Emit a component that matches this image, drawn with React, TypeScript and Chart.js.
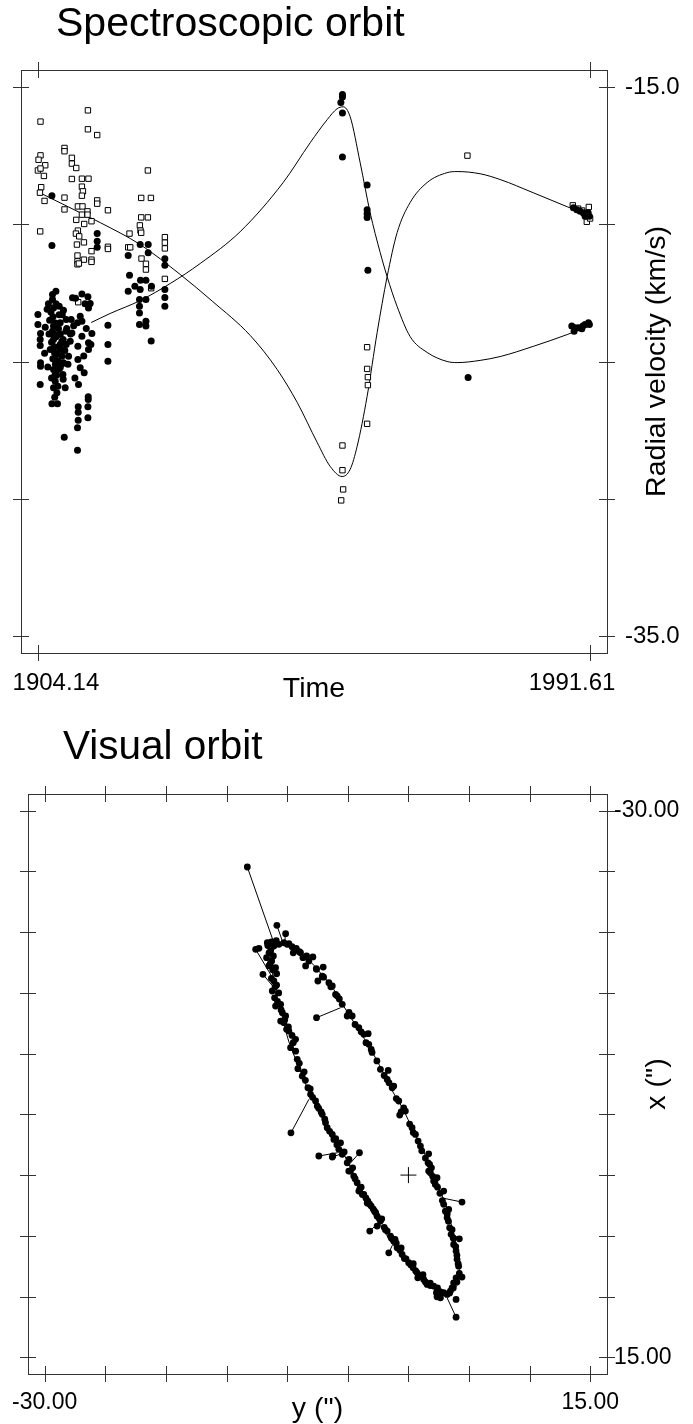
import React, { useEffect, useRef } from "react";
import { Chart, registerables } from "chart.js";

Chart.register(...registerables);

const FONT = '"Liberation Sans", Arial, sans-serif';

// ---------- Spectroscopic orbit ----------
const SPEC_X_TICKS = [1904.14, 1991.61];
const SPEC_X_LABELS = ["1904.14", "1991.61"];
const SPEC_Y_TICKS = [-15, -20, -25, -30, -35];
const SPEC_Y_LABELS = ["-15.0", "", "", "", "-35.0"];

// primary component (filled circles): [time, radial velocity]
const primaryObs: [number, number][] = [
  [1906.36, -18.96], [1906.36, -20.77], [1913.53, -20.34], [1913.53, -20.62], [1913.53, -20.84],
  [1920.34, -20.74], [1921.61, -20.74], [1921.61, -21.04], [1918.44, -21.14], [1924.25, -21.26],
  [1924.25, -21.49], [1918.65, -21.86], [1920.39, -22.04], [1921.25, -22.04], [1919.5, -22.26],
  [1920.34, -22.38], [1918.44, -22.44], [1922.13, -22.26], [1924.25, -22.38], [1924.25, -22.67],
  [1924.25, -22.99], [1921.25, -22.74], [1920.23, -22.74], [1920.23, -22.99], [1920.23, -23.23],
  [1920.23, -23.65], [1921.25, -23.53], [1921.25, -23.71], [1922.08, -24.25],
  [1906.99, -22.44], [1906.45, -22.56], [1906.45, -22.74], [1909.62, -22.68], [1911.11, -22.54],
  [1912.06, -22.64], [1912.42, -22.89], [1906.61, -23.05], [1907.51, -22.99], [1908.19, -23.13],
  [1912.15, -23.05], [1904.14, -23.29], [1906.52, -23.37], [1908.62, -23.47], [1909.41, -23.47],
  [1910.84, -23.35], [1904.14, -23.65], [1905.3, -23.75], [1906.61, -23.71], [1907.67, -23.59],
  [1910.41, -23.59], [1911.11, -23.53], [1915.23, -23.68], [1904.55, -23.98], [1906.45, -23.9],
  [1908.57, -23.9], [1909.52, -23.96], [1911.11, -24.08], [1912.69, -23.98], [1904.5, -24.2],
  [1906.61, -24.2], [1907.94, -24.26], [1909.26, -24.26], [1912.15, -24.32], [1915.23, -24.38],
  [1904.5, -24.42], [1906.77, -24.46], [1907.83, -24.56], [1910.47, -24.44], [1912.53, -24.38],
  [1906.77, -24.68], [1907.94, -24.81], [1908.99, -24.81], [1912.15, -24.56], [1906.88, -24.93],
  [1908.19, -25.05], [1910.47, -24.93], [1915.23, -24.99], [1904.55, -25.05], [1904.55, -25.17],
  [1906.61, -25.29], [1907.67, -25.23], [1910.84, -25.23], [1906.88, -25.47], [1908.1, -25.47],
  [1911.47, -25.41], [1906.88, -25.72], [1904.5, -25.84], [1908.46, -25.96], [1910.57, -25.84],
  [1906.61, -25.96], [1907.15, -26.14], [1912.11, -26.28], [1912.11, -26.38], [1906.36, -26.54],
  [1907.24, -26.54], [1910.52, -26.65], [1912.06, -26.65], [1910.52, -26.85], [1912.06, -27.05],
  [1910.52, -27.14], [1910.41, -27.41], [1908.31, -27.76], [1910.41, -28.23],
  [1907.36, -24.02], [1907.67, -24.38], [1907.2, -24.74], [1908.14, -24.2], [1907.36, -25.0],
  [1908.62, -24.38], [1906.09, -24.56], [1907.36, -25.29], [1908.14, -25.65],
  [1905.8, -22.9], [1906.2, -23.2], [1906.9, -23.6], [1907.4, -23.8], [1907.0, -24.1],
  [1906.3, -24.3], [1907.6, -24.5], [1906.5, -24.9], [1907.9, -25.1], [1907.1, -25.5],
  [1906.3, -25.6], [1908.4, -24.6], [1908.7, -23.8], [1905.9, -24.0], [1905.7, -25.2],
  [1907.0, -22.9], [1908.0, -23.3], [1906.0, -23.5], [1907.3, -25.9], [1906.8, -26.3],
  [1905.2, -24.7], [1905.6, -23.1], [1908.9, -25.1], [1909.3, -24.0], [1909.8, -23.7],
  [1910.1, -22.7], [1911.6, -22.9], [1911.8, -23.8], [1910.0, -25.6], [1911.4, -24.8],
  [1907.0, -24.7], [1906.6, -24.0], [1907.7, -24.0], [1906.9, -25.1], [1907.5, -23.3],
  [1952.38, -15.27], [1952.38, -15.36], [1952.13, -15.56], [1952.38, -15.95], [1952.38, -17.55],
  [1956.29, -18.57], [1956.29, -19.47], [1956.29, -19.62], [1956.29, -19.75], [1956.41, -21.68],
  [1972.29, -25.58],
  [1988.97, -19.4], [1989.51, -19.47], [1990.03, -19.53], [1990.55, -19.59], [1991.09, -19.65],
  [1991.5, -19.71], [1990.82, -19.71], [1991.3, -19.58],
  [1988.71, -23.71], [1989.08, -23.9], [1989.76, -23.77], [1990.46, -23.71], [1990.82, -23.65],
  [1991.35, -23.59], [1991.5, -23.65], [1990.3, -23.81], [1989.24, -23.77],
];

// secondary component (open squares): [time, radial velocity]
const secondaryObs: [number, number][] = [
  [1912.06, -15.85], [1904.55, -16.26], [1912.06, -16.54], [1913.53, -16.75], [1908.35, -17.22],
  [1908.35, -17.34], [1904.55, -17.49], [1904.24, -17.65], [1909.52, -17.58], [1909.52, -17.79],
  [1905.3, -17.85], [1910.21, -17.95], [1904.14, -18.04], [1904.55, -17.97], [1905.09, -18.24],
  [1921.56, -18.04], [1909.52, -18.35], [1911.11, -18.34], [1912.15, -18.34], [1904.66, -18.65],
  [1911.11, -18.63], [1911.27, -18.8], [1904.46, -18.85], [1911.11, -18.96], [1908.35, -19.03],
  [1905.19, -19.15], [1913.53, -19.13], [1913.53, -19.25], [1920.5, -19.04], [1922.04, -19.04],
  [1908.35, -19.46], [1910.47, -19.35], [1911.2, -19.35], [1915.23, -19.49], [1911.99, -19.53],
  [1911.99, -19.65], [1911.11, -19.65], [1910.21, -19.84], [1912.63, -19.89], [1911.47, -19.99],
  [1920.5, -19.75], [1921.56, -19.75], [1904.5, -20.26], [1910.47, -20.23], [1910.16, -20.34],
  [1910.68, -20.44], [1920.29, -20.04], [1920.39, -20.23], [1918.65, -20.34], [1920.5, -20.31],
  [1911.43, -20.66], [1910.32, -20.74], [1915.23, -20.82], [1915.23, -20.9], [1918.44, -20.84],
  [1918.76, -20.84], [1924.25, -20.47], [1924.25, -20.67], [1924.25, -20.88], [1912.63, -20.98],
  [1910.41, -21.14], [1911.43, -21.29], [1912.63, -21.29], [1912.63, -21.37], [1910.41, -21.35],
  [1910.41, -21.46], [1910.63, -21.43], [1920.55, -21.25], [1921.25, -21.44], [1921.25, -21.65],
  [1924.25, -21.99], [1922.08, -22.33], [1910.52, -22.84],
  [1952.38, -28.06], [1952.38, -28.96], [1952.49, -29.66], [1952.18, -30.06],
  [1956.29, -24.48], [1956.29, -25.27], [1956.41, -25.57], [1956.41, -25.86], [1956.29, -27.27],
  [1972.18, -17.5],
  [1988.87, -19.31], [1989.72, -19.43], [1990.35, -19.5], [1990.98, -19.58], [1991.41, -19.37],
  [1991.09, -19.91], [1991.61, -19.79],
];

// fitted curves: [time, radial velocity]
const primaryCurve: [number, number][] = [
  [1912.58, -23.58], [1915.59, -23.25], [1920.34, -22.78], [1925.09, -22.16], [1929.85, -21.43],
  [1936.18, -20.27], [1942.99, -18.48], [1947.27, -17.03], [1949.96, -16.19], [1951.54, -15.79],
  [1952.49, -15.72], [1953.6, -16.08], [1955.19, -17.76], [1956.77, -19.58], [1958.36, -21.03],
  [1959.46, -21.91], [1961.05, -23.0], [1963.1, -24.09], [1965.8, -24.67], [1968.96, -25.0],
  [1970.55, -25.04], [1974.19, -24.96], [1977.36, -24.82], [1982.59, -24.45], [1987.97, -24.02],
  [1991.61, -23.69],
];
const secondaryCurve: [number, number][] = [
  [1904.5, -18.86], [1910.84, -19.58], [1914.01, -19.94], [1920.34, -20.74], [1926.68, -21.83],
  [1931.75, -22.8], [1937.77, -24.05], [1942.04, -25.29], [1945.21, -26.49], [1948.38, -27.95],
  [1950.43, -28.82], [1952.33, -29.19], [1953.6, -28.93], [1954.71, -28.09], [1956.29, -26.27],
  [1957.88, -23.94], [1959.46, -21.91], [1961.05, -20.3], [1963.1, -19.21], [1965.8, -18.48],
  [1968.96, -18.12], [1970.55, -18.08], [1974.19, -18.16], [1977.36, -18.37], [1982.59, -18.85],
  [1987.97, -19.36], [1991.61, -19.69],
];

// ---------- Visual orbit ----------
const VIS_TICKS = [-30, -25, -20, -15, -10, -5, 0, 5, 10, 15];
const VIS_X_LABELS = ["-30.00", "", "", "", "", "", "", "", "", "15.00"];
const VIS_Y_LABELS = ["-30.00", "", "", "", "", "", "", "", "", "15.00"];

// fitted apparent orbit: [y ("), x (")]
const orbitCurve: [number, number][] = [
  [-10.54, -19.11], [-9.47, -18.62], [-8.32, -17.79], [-7.25, -16.64], [-6.18, -15.32],
  [-5.35, -13.92], [-4.2, -12.11], [-3.13, -10.38], [-2.14, -8.57], [-1.32, -6.92],
  [-0.49, -5.52], [0.41, -3.62], [1.24, -1.98], [1.81, -0.49], [2.39, 0.82],
  [3.05, 2.39], [3.46, 3.79], [3.87, 5.44], [4.12, 7.08], [4.16, 8.57],
  [3.79, 9.39], [3.05, 9.8], [2.22, 9.47], [0.99, 8.4], [-0.08, 7.17],
  [-1.24, 5.77], [-2.31, 4.12], [-3.29, 2.47], [-4.2, 0.82], [-5.02, -1.15],
  [-6.01, -2.72], [-6.84, -4.2], [-7.66, -5.85], [-8.48, -7.5], [-9.14, -9.14],
  [-9.88, -11.04], [-10.38, -12.93], [-10.96, -14.91], [-11.2, -16.56], [-11.29, -17.87],
  [-11.04, -18.7], [-10.54, -19.11],
];

// observed positions: [y ("), x (")]
const visualObs: [number, number][] = [
  [-13.29, -25.37], [-10.85, -20.57], [-10.13, -19.88], [-11.64, -19.13], [-12.6, -18.59],
  [-12.33, -18.67], [-11.1, -18.86], [-10.68, -19.0], [-10.27, -19.13], [-9.86, -19.05],
  [-9.25, -18.67], [-8.9, -18.31], [-8.4, -18.04], [-7.88, -17.96], [-8.21, -17.63],
  [-8.48, -17.22], [-7.58, -16.94], [-7.03, -17.13], [-7.11, -16.39], [-7.47, -15.98],
  [-6.56, -15.84], [-6.28, -15.57], [-6.01, -14.88], [-5.87, -14.74], [-5.46, -14.06],
  [-5.05, -13.1], [-4.64, -13.1], [-7.58, -12.96], [-4.09, -12.13], [-3.68, -11.59],
  [-3.32, -11.64], [-3.27, -10.77], [-3.07, -10.35], [-2.31, -8.71], [-1.67, -8.62],
  [-1.75, -7.88], [-1.34, -7.19], [-1.21, -7.33], [-0.8, -6.1], [-0.39, -5.54],
  [-0.72, -4.94], [-0.25, -5.27], [0.3, -3.9], [0.58, -3.35], [0.99, -2.39],
  [1.67, -1.75], [1.62, -1.01], [1.81, -0.19], [2.22, 0.35],
  [-11.37, -18.45], [-11.14, -18.04], [-11.28, -17.63], [-11.51, -17.22], [-12.0, -16.53],
  [-10.96, -17.08], [-10.87, -16.58], [-11.1, -15.98], [-10.87, -15.65], [-11.23, -15.16],
  [-11.04, -14.6], [-10.96, -13.92], [-10.54, -14.06], [-10.4, -13.37], [-10.13, -13.1],
  [-10.54, -12.68], [-10.27, -12.55], [-9.86, -11.86], [-10.05, -12.0], [-9.31, -11.18],
  [-9.72, -10.49], [-9.17, -9.53], [-9.12, -8.76], [-8.76, -8.15], [-8.29, -7.19],
  [-8.07, -6.65], [-7.66, -6.1], [-7.52, -5.68], [-7.11, -5.0], [-6.84, -4.31],
  [-6.7, -3.9], [-6.28, -3.35], [-6.15, -2.94], [-5.6, -2.66], [-5.74, -2.12],
  [-9.69, -3.48], [-7.39, -1.57], [-6.24, -1.57], [-4.04, -1.84], [-5.05, -1.01],
  [-4.92, -0.33], [-4.51, 0.08], [-6.28, -1.48], [-5.46, -1.71], [-4.78, -0.33],
  [-4.23, 0.63], [-4.09, 1.32], [-3.68, 1.59], [-3.35, 2.14], [-3.07, 2.55],
  [-2.8, 2.97], [-2.58, 3.38], [-2.31, 3.79], [-3.19, 4.61], [-2.58, 4.2],
  [-1.75, 4.61], [-1.48, 5.02], [-1.21, 5.44], [-1.62, 6.4], [-0.93, 5.99],
  [-0.52, 6.53], [-0.33, 6.86], [0.02, 7.22], [0.39, 7.64], [0.72, 8.05],
  [0.77, 8.46], [1.26, 8.59], [1.54, 9.0], [2.08, 9.14], [2.31, 9.69],
  [2.64, 10.11], [2.36, 10.02], [2.91, 9.69], [3.19, 9.83], [3.46, 9.55],
  [3.6, 9.28], [3.93, 10.24], [3.73, 8.87], [3.93, 8.46], [4.42, 8.4],
  [4.14, 7.5], [4.01, 6.94], [3.93, 6.26], [3.73, 5.71], [4.2, 5.25],
  [3.52, 4.88], [3.4, 4.34], [3.19, 3.52], [3.05, 2.97], [3.32, 2.83],
  [2.91, 2.41], [2.91, 1.32], [2.22, 0.77], [2.08, 0.49], [2.36, 0.22],
  [1.67, -0.33], [1.75, -0.88], [4.42, 2.22], [3.93, 11.7],
  [-11.6, -18.9], [-11.3, -19.2], [-10.9, -19.3], [-10.0, -19.0], [-9.6, -18.8],
  [-9.0, -18.4], [-11.5, -18.3], [-11.7, -17.9], [-11.4, -17.4], [-11.2, -16.9],
  [-11.3, -16.2], [-11.0, -15.5], [-10.7, -15.0], [-10.8, -14.3], [-10.5, -13.6],
  [-10.2, -12.8], [-9.9, -12.2], [-9.6, -11.5], [-9.5, -10.9], [-9.3, -10.2],
  [-9.0, -9.2], [-8.6, -8.5], [-8.5, -7.8], [-8.1, -7.1], [-7.9, -6.4],
  [-7.4, -5.5], [-7.2, -5.2], [-6.9, -4.6], [-6.5, -3.6], [-6.0, -3.0],
  [-5.9, -2.5], [-5.3, -1.9], [-4.9, -1.3], [-4.6, -0.6], [-4.4, 0.3],
  [-3.9, 1.0], [-3.5, 1.9], [-3.2, 2.4], [-2.9, 2.8], [-2.4, 3.6],
  [-2.0, 4.3], [-1.4, 5.2], [-1.0, 5.6], [-0.7, 6.2], [-0.2, 6.9],
  [0.2, 7.4], [0.6, 7.9], [1.0, 8.3], [1.4, 8.8], [1.8, 9.1],
  [2.6, 9.6], [3.4, 9.7], [3.7, 9.3], [4.0, 8.8], [4.2, 8.1],
  [4.1, 7.3], [4.0, 6.6], [3.9, 5.9], [3.7, 5.2], [3.6, 4.5],
  [3.3, 3.8], [3.2, 3.2], [2.8, 2.1], [2.6, 1.5], [2.4, 1.0],
  [2.0, 0.1], [1.9, -0.6], [1.4, -1.4], [1.1, -2.0], [0.8, -2.8],
  [0.4, -3.5], [0.1, -4.2], [-0.6, -5.2], [-1.0, -6.3], [-1.6, -7.6],
  [-2.0, -8.2], [-2.6, -9.4], [-3.0, -10.1], [-3.5, -10.9], [-3.9, -11.8],
  [-4.4, -12.4], [-4.9, -13.4], [-5.7, -14.5], [-6.4, -15.5], [-7.0, -16.3],
  [-7.6, -17.0], [-8.7, -17.9], [-9.5, -18.3],
  [-4.0, 1.1], [-3.8, 1.6], [-3.4, 2.3], [-2.7, 3.1], [-2.2, 3.6],
  [-1.9, 4.5], [-1.1, 5.3], [-0.6, 6.0], [0.4, 7.3], [1.2, 8.2],
  [1.8, 8.9], [2.4, 9.3],
];

// observed -> computed position connectors: [[y, x] observed, [y, x] computed]
const residuals: [number, number][][] = [
  [[-13.29, -25.37], [-11.1, -19.13]],
  [[-10.85, -20.57], [-10.4, -19.27]],
  [[-10.13, -19.88], [-10.21, -19.19]],
  [[-12.6, -18.59], [-11.2, -16.23]],
  [[-12.0, -16.53], [-11.2, -15.57]],
  [[-11.64, -19.13], [-11.12, -18.78]],
  [[-7.58, -12.96], [-5.6, -13.78]],
  [[-9.69, -3.48], [-8.21, -6.24]],
  [[-7.39, -1.57], [-5.85, -1.84]],
  [[-6.28, -1.48], [-5.6, -1.73]],
  [[-4.04, -1.84], [-4.78, -0.99]],
  [[4.42, 2.22], [2.8, 1.89]],
  [[-3.19, 4.61], [-2.45, 3.93]],
  [[-1.62, 6.4], [-1.32, 5.77]],
  [[4.2, 5.25], [3.79, 4.94]],
  [[3.93, 11.7], [3.19, 10.11]],
  [[4.42, 8.4], [4.04, 8.32]],
];

const primaryStar: [number, number][] = [[0, 0]];

// ---------- helpers ----------
const pts = (a: [number, number][]) => a.map(([x, y]) => ({ x, y }));

type FrameOpts = {
  xTicks: number[];
  xLabels: string[];
  xLabelShift: number[];
  yTicks: number[];
  yLabels: string[];
  tickFont: number;
  xLabelDy: number;
  yLabelDx: number;
  xTitle: string;
  yTitle: string;
  axisFont: number;
  xTitleDy: number;
  yTitleDx: number;
  title: string;
  titleFont: number;
  titleX: number;
  titleY: number;
};

const makeFrame = (o: FrameOpts) => ({
  id: "frame",
  afterDraw(chart: any) {
    const { ctx, chartArea: a, scales } = chart;
    const xs = scales.x;
    const ys = scales.y;
    ctx.save();
    ctx.strokeStyle = "#333";
    ctx.lineWidth = 1;
    ctx.strokeRect(a.left + 0.5, a.top + 0.5, a.right - a.left, a.bottom - a.top);
    ctx.beginPath();
    for (const v of o.xTicks) {
      const px = Math.round(xs.getPixelForValue(v)) + 0.5;
      ctx.moveTo(px, a.top - 8);
      ctx.lineTo(px, a.top + 8);
      ctx.moveTo(px, a.bottom - 8);
      ctx.lineTo(px, a.bottom + 8);
    }
    for (const v of o.yTicks) {
      const py = Math.round(ys.getPixelForValue(v)) + 0.5;
      ctx.moveTo(a.left - 8, py);
      ctx.lineTo(a.left + 8, py);
      ctx.moveTo(a.right - 8, py);
      ctx.lineTo(a.right + 8, py);
    }
    ctx.stroke();

    ctx.fillStyle = "#000";
    ctx.font = `${o.tickFont}px ${FONT}`;
    ctx.textAlign = "center";
    ctx.textBaseline = "alphabetic";
    o.xTicks.forEach((v, i) => {
      const t = o.xLabels[i];
      if (!t) return;
      ctx.fillText(t, xs.getPixelForValue(v) + (o.xLabelShift[i] || 0), a.bottom + o.xLabelDy);
    });
    ctx.textAlign = "left";
    ctx.textBaseline = "middle";
    o.yTicks.forEach((v, i) => {
      const t = o.yLabels[i];
      if (!t) return;
      ctx.fillText(t, a.right + o.yLabelDx, ys.getPixelForValue(v));
    });

    ctx.font = `${o.axisFont}px ${FONT}`;
    ctx.textAlign = "center";
    ctx.textBaseline = "alphabetic";
    ctx.fillText(o.xTitle, (a.left + a.right) / 2, a.bottom + o.xTitleDy);
    ctx.save();
    ctx.translate(a.right + o.yTitleDx, (a.top + a.bottom) / 2);
    ctx.rotate(-Math.PI / 2);
    ctx.textBaseline = "middle";
    ctx.fillText(o.yTitle, 0, 0);
    ctx.restore();

    ctx.font = `${o.titleFont}px ${FONT}`;
    ctx.textAlign = "left";
    ctx.textBaseline = "alphabetic";
    ctx.fillText(o.title, o.titleX, o.titleY);
    ctx.restore();
  },
});

const baseOptions = {
  animation: false as const,
  responsive: false,
  events: [] as any[],
  plugins: { legend: { display: false }, tooltip: { enabled: false } },
};

function specConfig(): any {
  return {
    type: "scatter",
    data: {
      datasets: [
        {
          data: pts(primaryObs),
          pointStyle: "circle",
          pointRadius: 3.5,
          backgroundColor: "#000",
          borderWidth: 0,
        },
        {
          data: pts(secondaryObs),
          pointStyle: "rect",
          pointRadius: 3.8,
          backgroundColor: "#fff",
          borderColor: "#000",
          borderWidth: 1,
        },
        {
          type: "line",
          data: pts(primaryCurve),
          borderColor: "#000",
          borderWidth: 1,
          pointRadius: 0,
          cubicInterpolationMode: "monotone",
          fill: false,
        },
        {
          type: "line",
          data: pts(secondaryCurve),
          borderColor: "#000",
          borderWidth: 1,
          pointRadius: 0,
          cubicInterpolationMode: "monotone",
          fill: false,
        },
      ],
    },
    options: {
      ...baseOptions,
      layout: { padding: { left: 21, top: 70, right: 86, bottom: 57 } },
      scales: {
        x: { type: "linear", display: false, min: 1901.46, max: 1994.29 },
        y: { type: "linear", display: false, min: -35.62, max: -14.38 },
      },
    },
    plugins: [
      makeFrame({
        xTicks: SPEC_X_TICKS,
        xLabels: SPEC_X_LABELS,
        xLabelShift: [18, -18],
        yTicks: SPEC_Y_TICKS,
        yLabels: SPEC_Y_LABELS,
        tickFont: 24,
        xLabelDy: 37,
        yLabelDx: 18,
        xTitle: "Time",
        yTitle: "Radial velocity (km/s)",
        axisFont: 28.5,
        xTitleDy: 44,
        yTitleDx: 50,
        title: "Spectroscopic orbit",
        titleFont: 41,
        titleX: 56,
        titleY: 36,
      }),
    ],
  };
}

function visualConfig(): any {
  const residualSets = residuals.map(([o, c]) => ({
    type: "line",
    data: [
      { x: o[0], y: o[1] },
      { x: c[0], y: c[1] },
    ],
    borderColor: "#000",
    borderWidth: 1,
    pointRadius: 0,
    tension: 0,
    fill: false,
  }));
  return {
    type: "scatter",
    data: {
      datasets: [
        {
          data: pts(primaryStar),
          pointStyle: "cross",
          pointRadius: 8,
          borderColor: "#000",
          borderWidth: 1,
        },
        {
          data: pts(visualObs),
          pointStyle: "circle",
          pointRadius: 3.4,
          backgroundColor: "#000",
          borderWidth: 0,
        },
        ...residualSets,
        {
          type: "line",
          data: pts(orbitCurve),
          borderColor: "#000",
          borderWidth: 1,
          pointRadius: 0,
          tension: 0.4,
          fill: false,
        },
      ],
    },
    options: {
      ...baseOptions,
      layout: { padding: { left: 28, top: 84, right: 86, bottom: 50 } },
      scales: {
        x: { type: "linear", display: false, min: -31.38, max: 16.38 },
        y: { type: "linear", display: false, min: -31.38, max: 16.38, reverse: true },
      },
    },
    plugins: [
      makeFrame({
        xTicks: VIS_TICKS,
        xLabels: VIS_X_LABELS,
        xLabelShift: [],
        yTicks: VIS_TICKS,
        yLabels: VIS_Y_LABELS,
        tickFont: 23,
        xLabelDy: 35,
        yLabelDx: 7,
        xTitle: 'y (")',
        yTitle: 'x (")',
        axisFont: 28.5,
        xTitleDy: 43,
        yTitleDx: 50,
        title: "Visual orbit",
        titleFont: 40.5,
        titleX: 63,
        titleY: 49,
      }),
    ],
  };
}

export default function App() {
  const r1 = useRef<HTMLCanvasElement>(null);
  const r2 = useRef<HTMLCanvasElement>(null);
  useEffect(() => {
    const c1 = new Chart(r1.current as HTMLCanvasElement, specConfig());
    const c2 = new Chart(r2.current as HTMLCanvasElement, visualConfig());
    return () => {
      c1.destroy();
      c2.destroy();
    };
  }, []);
  return (
    <div style={{ position: "absolute", left: 0, top: 0, width: 693, height: 1424, background: "#fff" }}>
      <canvas ref={r1} width={693} height={710} style={{ display: "block", width: 693, height: 710 }} />
      <canvas ref={r2} width={693} height={714} style={{ display: "block", width: 693, height: 714 }} />
    </div>
  );
}
